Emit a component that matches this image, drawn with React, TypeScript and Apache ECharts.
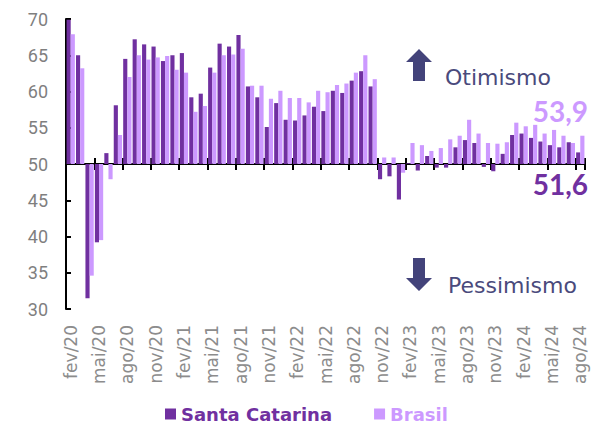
import React, { useEffect, useRef } from "react";
import * as echarts from "echarts";

const categories: string[] = [
  "fev/20", "mar/20", "abr/20", "mai/20", "jun/20", "jul/20", "ago/20", "set/20", "out/20", "nov/20", "dez/20",
  "jan/21", "fev/21", "mar/21", "abr/21", "mai/21", "jun/21", "jul/21", "ago/21", "set/21", "out/21", "nov/21", "dez/21",
  "jan/22", "fev/22", "mar/22", "abr/22", "mai/22", "jun/22", "jul/22", "ago/22", "set/22", "out/22", "nov/22", "dez/22",
  "jan/23", "fev/23", "mar/23", "abr/23", "mai/23", "jun/23", "jul/23", "ago/23", "set/23", "out/23", "nov/23", "dez/23",
  "jan/24", "fev/24", "mar/24", "abr/24", "mai/24", "jun/24", "jul/24", "ago/24",
];

const santaCatarina: number[] = [
  69.9, 65.0, 31.5, 39.2, 51.5, 58.1, 64.5, 67.2, 66.5, 66.2, 64.2,
  65.0, 65.3, 59.2, 59.7, 63.3, 66.6, 66.2, 67.8, 60.7, 59.2, 55.1, 58.4,
  56.1, 56.0, 56.7, 57.9, 57.3, 60.1, 59.8, 61.5, 62.8, 60.7, 47.9, 48.3,
  45.1, 50.1, 49.1, 51.1, 49.5, 49.5, 52.3, 53.3, 52.9, 49.6, 49.0, 51.4,
  54.0, 54.2, 53.6, 53.1, 52.6, 52.3, 53.0, 51.6,
];

const brasil: number[] = [
  67.9, 63.2, 34.6, 39.5, 47.9, 54.0, 62.0, 65.0, 64.4, 64.7, 64.9,
  63.0, 62.6, 57.2, 58.0, 62.6, 65.0, 65.1, 65.9, 60.8, 60.8, 59.0, 60.1,
  59.1, 59.1, 58.5, 60.1, 59.9, 60.9, 61.1, 62.6, 65.0, 61.7, 50.9, 50.9,
  48.8, 52.9, 52.6, 51.8, 52.2, 53.4, 53.9, 56.1, 54.2, 52.9, 52.8, 53.0,
  55.7, 55.2, 55.4, 54.2, 54.7, 53.9, 52.9, 53.9,
];

const BASE = 50;
const Y_MIN = 30;
const Y_MAX = 70;
const Y_STEP = 5;

const SC_COLOR = "#7030A0";
const BR_COLOR = "#CC99FF";
const ARROW_COLOR = "#43437a";
const TEXT_COLOR = "#4a4a7c";

const fmt = (v: number) => v.toFixed(1).replace(".", ",");

export default function App() {
  const ref = useRef<HTMLDivElement>(null);

  useEffect(() => {
    if (!ref.current) return;
    const chart = echarts.init(ref.current, null, { renderer: "svg" });

    const lastSC = santaCatarina[santaCatarina.length - 1];
    const lastBR = brasil[brasil.length - 1];

    const option: any = {
      animation: false,
      backgroundColor: "#ffffff",
      grid: { left: 66, right: 21, top: 19, bottom: 118, containLabel: false },
      legend: {
        left: 163,
        top: 400,
        padding: 2,
        icon: "rect",
        itemWidth: 11,
        itemHeight: 11,
        itemGap: 42,
        textStyle: { fontFamily: "DejaVu Sans", fontWeight: "bold", fontSize: 18, lineHeight: 24 },
        data: [
          { name: "Santa Catarina", textStyle: { color: SC_COLOR } },
          { name: "Brasil", textStyle: { color: BR_COLOR } },
        ],
      },
      xAxis: [
        {
          type: "category",
          data: categories,
          position: "bottom",
          axisLine: { show: false, onZero: false },
          axisTick: { show: false },
          axisLabel: {
            rotate: 90,
            interval: 2,
            color: "#8c8c8c",
            fontSize: 17,
            fontFamily: "DejaVu Sans",
            margin: 16,
          },
          splitLine: { show: false },
        },
        {
          type: "category",
          data: categories,
          position: "bottom",
          axisLine: { show: true, onZero: true, onZeroAxisIndex: 0, lineStyle: { color: "#000", width: 2 } },
          axisTick: { show: true, interval: 2, length: 6, inside: false, lineStyle: { color: "#000", width: 2 } },
          axisLabel: { show: false },
          splitLine: { show: false },
        },
        {
          type: "category",
          data: categories,
          position: "bottom",
          axisLine: { show: false, onZero: true, onZeroAxisIndex: 1 },
          axisTick: { show: true, interval: 2, length: 6, inside: true, lineStyle: { color: "#000", width: 2 } },
          axisLabel: { show: false },
          splitLine: { show: false },
        },
      ],
      yAxis: [
        {
          type: "value",
          min: Y_MIN - BASE,
          max: Y_MAX - BASE,
          interval: Y_STEP,
          axisLine: { show: true, lineStyle: { color: "#000", width: 2 } },
          axisTick: { show: true, inside: true, length: 5, lineStyle: { color: "#000", width: 2 } },
          axisLabel: {
            formatter: (v: number) => String(v + BASE),
            color: "#7f7f7f",
            fontSize: 18,
            fontFamily: "Roboto",
            margin: 18,
          },
          splitLine: { show: false },
        },
        {
          type: "value",
          min: Y_MIN - BASE,
          max: Y_MAX - BASE,
          interval: Y_STEP,
          show: false,
          splitLine: { show: false },
        },
      ],
      series: [
        {
          name: "Santa Catarina",
          type: "bar",
          xAxisIndex: 0,
          yAxisIndex: 0,
          data: santaCatarina.map((v) => +(v - BASE).toFixed(2)),
          itemStyle: { color: SC_COLOR },
          barGap: "0%",
          barCategoryGap: "12%",
        },
        {
          name: "Brasil",
          type: "bar",
          xAxisIndex: 0,
          yAxisIndex: 0,
          data: brasil.map((v) => +(v - BASE).toFixed(2)),
          itemStyle: { color: BR_COLOR },
          barGap: "0%",
          barCategoryGap: "12%",
        },
      ],
      graphic: [
        {
          type: "polygon",
          shape: { points: [[419, 49], [432, 62], [425, 62], [425, 81], [413, 81], [413, 62], [406, 62]] },
          style: { fill: ARROW_COLOR },
        },
        {
          type: "polygon",
          shape: { points: [[413, 258], [425, 258], [425, 278], [432, 278], [419, 291], [406, 278], [413, 278]] },
          style: { fill: ARROW_COLOR },
        },
        {
          type: "text",
          x: 445,
          y: 77,
          style: {
            text: "Otimismo",
            fill: TEXT_COLOR,
            font: "22px 'DejaVu Sans'",
            textVerticalAlign: "middle",
          },
        },
        {
          type: "text",
          x: 448,
          y: 285,
          style: {
            text: "Pessimismo",
            fill: TEXT_COLOR,
            font: "22px 'DejaVu Sans'",
            textVerticalAlign: "middle",
          },
        },
        {
          type: "text",
          x: 588,
          y: 111,
          style: {
            text: fmt(lastBR),
            fill: BR_COLOR,
            font: "bold 28px Lato",
            textAlign: "right",
            textVerticalAlign: "middle",
          },
        },
        {
          type: "text",
          x: 588,
          y: 184,
          style: {
            text: fmt(lastSC),
            fill: SC_COLOR,
            font: "bold 28px Lato",
            textAlign: "right",
            textVerticalAlign: "middle",
          },
        },
      ],
    };

    chart.setOption(option);
    return () => chart.dispose();
  }, []);

  return (
    <div
      ref={ref}
      style={{ position: "fixed", left: 0, top: 0, width: 606, height: 427, background: "#fff" }}
    />
  );
}
